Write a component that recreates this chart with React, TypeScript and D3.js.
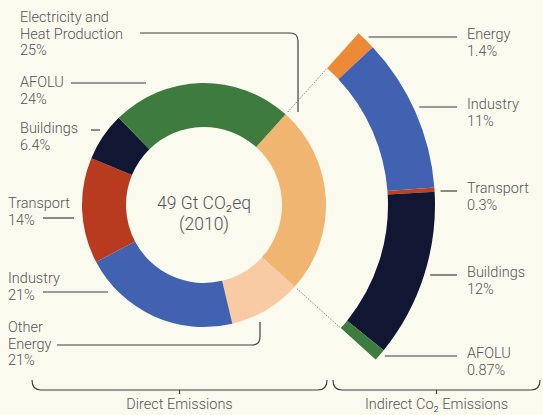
import React from 'react';
import * as d3 from 'd3';

// ---------- data ----------
const directCategories = ['Electricity and\nHeat Production', 'Other\nEnergy', 'Industry', 'Transport', 'Buildings', 'AFOLU'];
const directValues = [25, 9.6, 21, 14, 6.4, 24];
const directShareText = ['25%', '21%', '21%', '14%', '6.4%', '24%'];

const indirectCategories = ['Energy', 'Industry', 'Transport', 'Buildings', 'AFOLU'];
const indirectValues = [1.4, 11, 0.3, 12, 0.87];
const indirectShareText = ['1.4%', '11%', '0.3%', '12%', '0.87%'];

const totalText = '49 Gt CO\u2082eq';
const yearText = '(2010)';
const groupTitles = ['Direct Emissions', 'Indirect Co\u2082 Emissions'];

// ---------- styles / layout ----------
const W = 543;
const H = 415;
const BG = '#FBFAEF';
const TEXT = '#555555';
const LINE = '#3f3f3f';
const FONT = 'Roboto, "Liberation Sans", Arial, Helvetica, sans-serif';
const FW = 300;
const FS = 14.5;

const directColors = ['#F1B572', '#F8CBA4', '#4161B1', '#B83A1F', '#111733', '#3E7B3F'];
const indirectColors = ['#EC8A38', '#4161B1', '#C0401F', '#111733', '#3E7B3F'];

const cx = 204;
const cy = 205;
const rOuter = 122;
const rInner = 78;
const rIndIn = 184;
const rIndOut = 231;
const startDeg = 42;

// label layout for direct categories (same order as data)
const directLayout = [
  { x: 20, y: 22, leader: 'M140,33 H290 Q298,33 298,41 V112' },
  { x: 8, y: 332, leader: 'M57,345 H252 Q260,345 260,337 V322' },
  { x: 8, y: 283, leader: 'M43,292 H108' },
  { x: 8, y: 208, leader: 'M43,218 H74' },
  { x: 20, y: 133, leader: 'M91,130 H100' },
  { x: 20, y: 87, leader: 'M71,83 H146' },
];
const indirectLeaderY = [37, 107, 191, 275, 356];
const rightLabelX = 467;
const rightLeaderEnd = 457;
const LH = 16.5;

export default function App() {
  const rad = (d: number) => (d * Math.PI) / 180;

  const pie = d3
    .pie<number>()
    .sort(null)
    .value((d) => d)
    .startAngle(rad(startDeg))
    .endAngle(rad(startDeg + 360));
  const directArcs = pie(directValues);

  const elec = directArcs[0];
  const pieInd = d3
    .pie<number>()
    .sort(null)
    .value((d) => d)
    .startAngle(elec.startAngle)
    .endAngle(elec.endAngle);
  const indirectArcs = pieInd(indirectValues);

  const arcDirect = d3.arc<d3.PieArcDatum<number>>().innerRadius(rInner).outerRadius(rOuter);
  const arcIndirect = d3.arc<d3.PieArcDatum<number>>().innerRadius(rIndIn).outerRadius(rIndOut);

  const polar = (r: number, a: number) => [cx + r * Math.sin(a), cy - r * Math.cos(a)];
  const dotted = [elec.startAngle, elec.endAngle].map((a) => {
    const [x1, y1] = polar(rOuter + 3, a);
    const [x2, y2] = polar(rIndIn - 1, a);
    return { x1, y1, x2, y2 };
  });

  const brace = (x0: number, x1: number) => {
    const yb = 390;
    const yt = 380;
    const rr = 9;
    const mid = (x0 + x1) / 2;
    return `M${x0},${yt} Q${x0},${yb} ${x0 + rr},${yb} H${x1 - rr} Q${x1},${yb} ${x1},${yt} M${mid},${yb} V${yb + 4}`;
  };
  const braces = [
    { x0: 32, x1: 327 },
    { x0: 333, x1: 540 },
  ];

  return (
    <svg
      width={W}
      height={H}
      viewBox={`0 0 ${W} ${H}`}
      style={{ position: 'absolute', left: 0, top: 0, display: 'block' }}
      fontFamily={FONT}
      fontWeight={FW}
    >
      <rect x={0} y={0} width={W} height={H} fill={BG} />

      <g transform={`translate(${cx},${cy})`}>
        {directArcs.map((a, i) => (
          <path key={i} d={arcDirect(a) || ''} fill={directColors[i]} />
        ))}
        {indirectArcs.map((a, i) => (
          <path key={'i' + i} d={arcIndirect(a) || ''} fill={indirectColors[i]} />
        ))}
      </g>

      {dotted.map((d, i) => (
        <line key={i} {...d} stroke="#8a8a8a" strokeWidth={1} strokeDasharray="1.5,1.5" />
      ))}

      <text x={cx} y={209} textAnchor="middle" fontSize={17.5} fill={TEXT}>
        {totalText}
      </text>
      <text x={cx} y={230} textAnchor="middle" fontSize={17.5} fill={TEXT}>
        {yearText}
      </text>

      {directCategories.map((name, i) => {
        const lines = [...name.split('\n'), directShareText[i]];
        const L = directLayout[i];
        return (
          <g key={i}>
            <path d={L.leader} fill="none" stroke={LINE} strokeWidth={1.2} />
            <text fontSize={FS} fill={TEXT}>
              {lines.map((t, j) => (
                <tspan key={j} x={L.x} y={L.y + j * LH}>
                  {t}
                </tspan>
              ))}
            </text>
          </g>
        );
      })}

      {indirectCategories.map((name, i) => {
        const y = indirectLeaderY[i];
        const dy = y - cy;
        const xEdge = cx + Math.sqrt(Math.max(0, rIndOut * rIndOut - dy * dy));
        const xStart = Math.min(xEdge + 6, rightLeaderEnd - 10);
        return (
          <g key={i}>
            <line x1={xStart} x2={rightLeaderEnd} y1={y} y2={y} stroke={LINE} strokeWidth={1.2} />
            <text fontSize={FS} fill={TEXT}>
              <tspan x={rightLabelX} y={y + 2}>
                {name}
              </tspan>
              <tspan x={rightLabelX} y={y + 2 + LH}>
                {indirectShareText[i]}
              </tspan>
            </text>
          </g>
        );
      })}

      {braces.map((b, i) => (
        <g key={i}>
          <path d={brace(b.x0, b.x1)} fill="none" stroke={LINE} strokeWidth={1.2} />
          <text x={(b.x0 + b.x1) / 2} y={409} textAnchor="middle" fontSize={FS} fill={TEXT}>
            {groupTitles[i]}
          </text>
        </g>
      ))}
    </svg>
  );
}
